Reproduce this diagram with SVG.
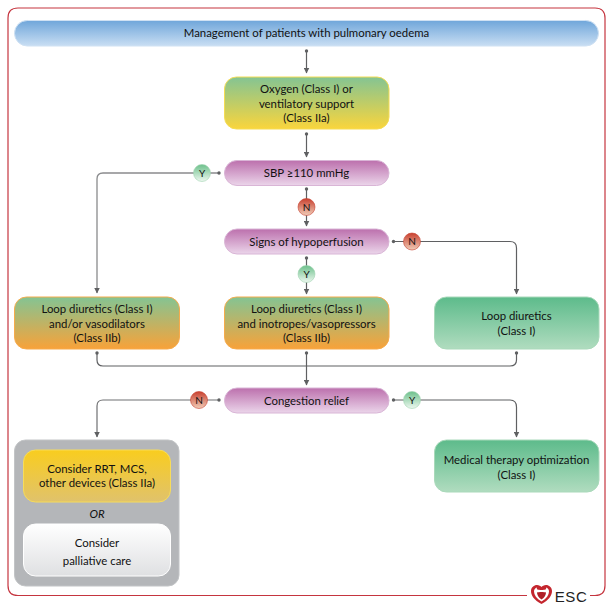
<svg xmlns="http://www.w3.org/2000/svg" width="609" height="610" viewBox="0 0 609 610">
<style>
text{font-family:"Lato","Noto Sans","Liberation Sans",sans-serif;font-size:11.4px;fill:#111;text-anchor:middle}
.c{fill:none;stroke:#5f6062;stroke-width:1.2}
.d{fill:#5f6062}
.b{stroke-width:1}
.lt{font-size:10px}
</style>
<defs>
<linearGradient id="blue" x1="0" y1="0" x2="0" y2="1"><stop offset="0" stop-color="#6fa6da"/><stop offset="1" stop-color="#c9def3"/></linearGradient>
<linearGradient id="gy" x1="0" y1="0" x2="0" y2="1"><stop offset="0" stop-color="#84c493"/><stop offset="1" stop-color="#fad53c"/></linearGradient>
<linearGradient id="pur" x1="0" y1="0" x2="0" y2="1"><stop offset="0" stop-color="#bc70ad"/><stop offset="1" stop-color="#ebd5ea"/></linearGradient>
<linearGradient id="go" x1="0" y1="0" x2="0" y2="1"><stop offset="0" stop-color="#84c493"/><stop offset="1" stop-color="#f8a239"/></linearGradient>
<linearGradient id="gr" x1="0" y1="0" x2="0" y2="1"><stop offset="0" stop-color="#5dbb8b"/><stop offset="1" stop-color="#b0dcbf"/></linearGradient>
<linearGradient id="yel" x1="0" y1="0" x2="0" y2="1"><stop offset="0" stop-color="#f9cd1f"/><stop offset="1" stop-color="#e0c26c"/></linearGradient>
<linearGradient id="wh" x1="0" y1="0" x2="0" y2="1"><stop offset="0" stop-color="#ffffff"/><stop offset="1" stop-color="#dfe0e2"/></linearGradient>
<linearGradient id="ybg" x1="0" y1="0" x2="0" y2="1"><stop offset="0" stop-color="#6cc08b"/><stop offset="1" stop-color="#eef8f0"/></linearGradient>
<linearGradient id="nbg" x1="0" y1="0" x2="0" y2="1"><stop offset="0" stop-color="#c8402f"/><stop offset="1" stop-color="#f0cdb8"/></linearGradient>
<marker id="ah" markerWidth="6" markerHeight="6" refX="5.500" refY="3" orient="auto" markerUnits="userSpaceOnUse"><path d="M0 0L6 3L0 6Z" fill="#5f6062"/></marker>
</defs>
<path id="frame" d="M527 595.500H18Q8 595.500 8 585.500V18Q8 8 18 8H595Q605 8 605 18V585.500Q605 595.500 595 595.500H590" fill="none" stroke="#c5353f" stroke-width="1.200"/>
<g id="connectors">
<path class="c" d="M306.500 51V73" marker-end="url(#ah)"/><circle class="d" cx="306.500" cy="51" r="1.700"/>
<path class="c" d="M306.500 134V157" marker-end="url(#ah)"/><circle class="d" cx="306.500" cy="134" r="1.700"/>
<path class="c" d="M219 173H103Q97 173 97 179V293" style="stroke:#8a8b8d;stroke-width:1.300" marker-end="url(#ah)"/><circle class="d" cx="219" cy="173" r="1.700"/>
<path class="c" d="M306.500 189V226" marker-end="url(#ah)"/><circle class="d" cx="306.500" cy="189" r="1.700"/>
<path class="c" d="M393.500 241.500H510Q516.500 241.500 516.500 248V294" marker-end="url(#ah)"/><circle class="d" cx="393.500" cy="241.500" r="1.700"/>
<path class="c" d="M306.500 258V294" marker-end="url(#ah)"/><circle class="d" cx="306.500" cy="258" r="1.700"/>
<path class="c" d="M97 353V360Q97 366 103 366H510Q516.500 366 516.500 360V353"/><circle class="d" cx="97" cy="353" r="1.700"/><circle class="d" cx="516.500" cy="353" r="1.700"/>
<path class="c" d="M306.500 353V385" marker-end="url(#ah)"/><circle class="d" cx="306.500" cy="353" r="1.700"/>
<path class="c" d="M219 400H103Q97 400 97 406V437" style="stroke:#6f7072" marker-end="url(#ah)"/><circle class="d" cx="219" cy="400" r="1.700"/>
<path class="c" d="M393.500 400H510Q516.500 400 516.500 407V437" marker-end="url(#ah)"/><circle class="d" cx="393.500" cy="400" r="1.700"/>
</g>
<g id="n-header"><rect class="b" x="14.500" y="20.500" width="584" height="25.500" rx="12.750" fill="url(#blue)" stroke="#cfe1f3"/><text x="306.500" y="37">Management of patients with pulmonary oedema</text></g>
<g id="n-oxygen"><rect class="b" x="224.500" y="77" width="164.500" height="52" rx="12" fill="url(#gy)" stroke="#f5dc55"/><text x="306.500" y="93">Oxygen (Class I) or</text><text x="306.500" y="107.500">ventilatory support</text><text x="306.500" y="122">(Class IIa)</text></g>
<g id="n-sbp"><rect class="b" x="224.500" y="160.500" width="164.500" height="25" rx="12.500" fill="url(#pur)" stroke="#d9b5d6"/><text x="306.500" y="177">SBP ≥110 mmHg</text></g>
<g id="n-signs"><rect class="b" x="224.500" y="229" width="164.500" height="25" rx="12.500" fill="url(#pur)" stroke="#d9b5d6"/><text x="306.500" y="245.500">Signs of hypoperfusion</text></g>
<g id="n-loopl"><rect class="b" x="14.500" y="297" width="165" height="52" rx="12" fill="url(#go)" stroke="#f6ab4c"/><text x="97" y="313">Loop diuretics (Class I)</text><text x="97" y="327.500">and/or vasodilators</text><text x="97" y="342">(Class IIb)</text></g>
<g id="n-loopm"><rect class="b" x="224.500" y="297" width="164.500" height="52" rx="12" fill="url(#go)" stroke="#f6ab4c"/><text x="306.500" y="313">Loop diuretics (Class I)</text><text x="306.500" y="327.500">and inotropes/vasopressors</text><text x="306.500" y="342">(Class IIb)</text></g>
<g id="n-loopr"><rect class="b" x="434.500" y="297" width="164.500" height="52" rx="12" fill="url(#gr)" stroke="#a9d9ba"/><text x="516.500" y="320">Loop diuretics</text><text x="516.500" y="335">(Class I)</text></g>
<g id="n-congestion"><rect class="b" x="224.500" y="388" width="164.500" height="25" rx="12.500" fill="url(#pur)" stroke="#d9b5d6"/><text x="306.500" y="404.500">Congestion relief</text></g>
<g id="n-medical"><rect class="b" x="434.500" y="440" width="164.500" height="52" rx="12" fill="url(#gr)" stroke="#a9d9ba"/><text x="516.500" y="464">Medical therapy optimization</text><text x="516.500" y="479">(Class I)</text></g>
<g id="n-group"><rect x="14.500" y="440" width="164.500" height="146" rx="11" fill="#b4b6b9" stroke="#c2c4c6"/><rect class="b" x="23.500" y="450" width="147" height="52" rx="12" fill="url(#yel)" stroke="#f7dc5a"/><text x="97" y="473">Consider RRT, MCS,</text><text x="97" y="487">other devices (Class IIa)</text><text x="97" y="518" font-style="italic">OR</text><rect class="b" x="23.500" y="524" width="147" height="52" rx="12" fill="url(#wh)" stroke="#fff"/><text x="97" y="547">Consider</text><text x="97" y="564.500">palliative care</text></g>
<g id="b-y1"><circle cx="202" cy="173" r="8.500" fill="url(#ybg)" stroke="#9fd4b0" stroke-width=".6"/><text class="lt" x="202" y="176.500">Y</text></g>
<g id="b-n1"><circle cx="306.500" cy="207" r="8.500" fill="url(#nbg)" stroke="#c8402f" stroke-width=".6"/><text class="lt" x="306.500" y="210.500">N</text></g>
<g id="b-n2"><circle cx="412" cy="241.500" r="8.500" fill="url(#nbg)" stroke="#c8402f" stroke-width=".6"/><text class="lt" x="412" y="245">N</text></g>
<g id="b-y2"><circle cx="306.500" cy="274" r="8.500" fill="url(#ybg)" stroke="#9fd4b0" stroke-width=".6"/><text class="lt" x="306.500" y="277.500">Y</text></g>
<g id="b-n3"><circle cx="199" cy="400" r="8.500" fill="url(#nbg)" stroke="#c8402f" stroke-width=".6"/><text class="lt" x="199" y="403.500">N</text></g>
<g id="b-y3"><circle cx="412" cy="400" r="8.500" fill="url(#ybg)" stroke="#9fd4b0" stroke-width=".6"/><text class="lt" x="412" y="403.500">Y</text></g>
<g id="logo">
<path d="M541.500 604C534 600 531 595.500 531 591C531 587.500 534 585 537 585C539 585 540.700 586 541.500 587C542.300 586 544 585 546 585C549 585 552 587.500 552 591C552 595.500 549 600 541.500 604Z" fill="#c4262e"/>
<path d="M541.500 601.500C536.500 598.500 534 595 534 591.500C534 589.500 535.200 588 537 587.500C536.200 589.200 537.500 590 541.500 590C545.500 590 546.800 589.200 546 587.500C547.800 588 549 589.500 549 591.500C549 595 546.500 598.500 541.500 601.500Z" fill="#fff"/>
<path d="M541.500 599.500C538.500 597.500 537 595 537 592.500C538.500 591.800 544.500 591.800 546 592.500C546 595 544.500 597.500 541.500 599.500Z" fill="#b01f28"/>
<text x="571" y="601.500" style="font-family:'Liberation Sans',sans-serif;font-size:15px;fill:#222;letter-spacing:.6px">ESC</text>
</g>
</svg>
